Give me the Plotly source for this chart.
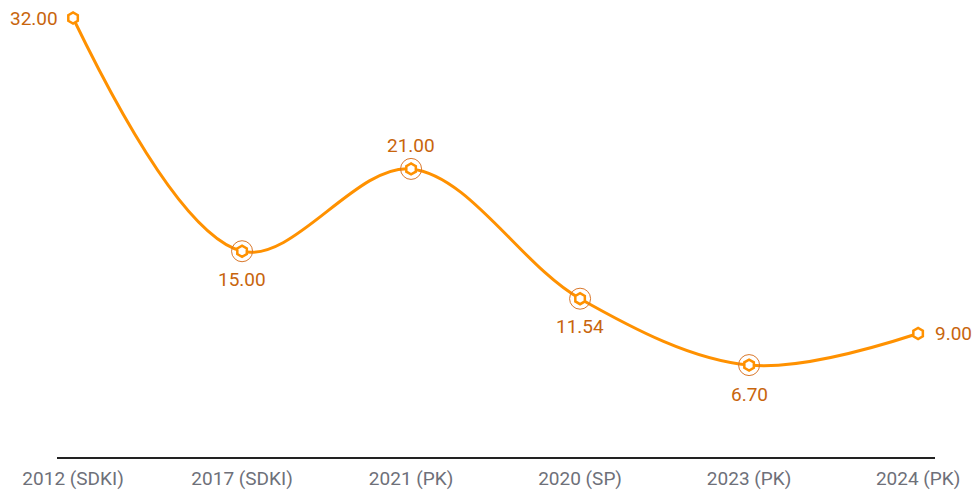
import plotly.graph_objects as go

categories = ["2012 (SDKI)", "2017 (SDKI)", "2021 (PK)", "2020 (SP)", "2023 (PK)", "2024 (PK)"]
values = [32.00, 15.00, 21.00, 11.54, 6.70, 9.00]
labels = ["32.00", "15.00", "21.00", "11.54", "6.70", "9.00"]
# label offsets in pixels (style only)
label_shift = [(-39, 0), (0, -28), (0, 23), (0, -28), (0, -29), (35, 0)]
ring_idx = [1, 2, 3, 4]

LINE = "#FF9100"
TXT = "#C8650C"

fig = go.Figure()
fig.add_trace(go.Scatter(
    x=categories, y=values, mode="lines",
    line=dict(color=LINE, width=3, shape="spline", smoothing=1.0),
    hoverinfo="skip", cliponaxis=False, showlegend=False))
fig.add_trace(go.Scatter(
    x=[categories[i] for i in ring_idx], y=[values[i] for i in ring_idx],
    mode="markers", hoverinfo="skip",
    marker=dict(symbol="circle-open", size=21, color="#D9772A", line=dict(width=1)),
    cliponaxis=False, showlegend=False))
fig.add_trace(go.Scatter(
    x=categories, y=values, mode="markers",
    marker=dict(symbol="hexagon", size=11, color="white", line=dict(color=LINE, width=2.5)),
    cliponaxis=False, showlegend=False))

for c, v, t, (dx, dy) in zip(categories, values, labels, label_shift):
    fig.add_annotation(x=c, y=v, text=t, showarrow=False, xshift=dx, yshift=dy,
                       font=dict(family="Roboto", size=19, color=TXT))

fig.update_layout(
    width=977, height=491,
    margin=dict(l=57, r=42, t=18, b=34),
    plot_bgcolor="white", paper_bgcolor="white",
    font=dict(family="Roboto"),
    xaxis=dict(type="category", categoryorder="array", categoryarray=categories,
               range=[-0.095, 5.1], showgrid=False, zeroline=False, automargin=False,
               showline=True, linecolor="#222", linewidth=1.5, ticks="",
               ticklabelstandoff=3,
               tickfont=dict(family="Roboto", size=19, color="#6E7079")),
    yaxis=dict(range=[0, 32], visible=False, showgrid=False, zeroline=False, automargin=False),
)
fig.write_html("out.html", config={"displayModeBar": False},
               post_script="document.body.style.margin='0';document.body.style.overflow='hidden';")
